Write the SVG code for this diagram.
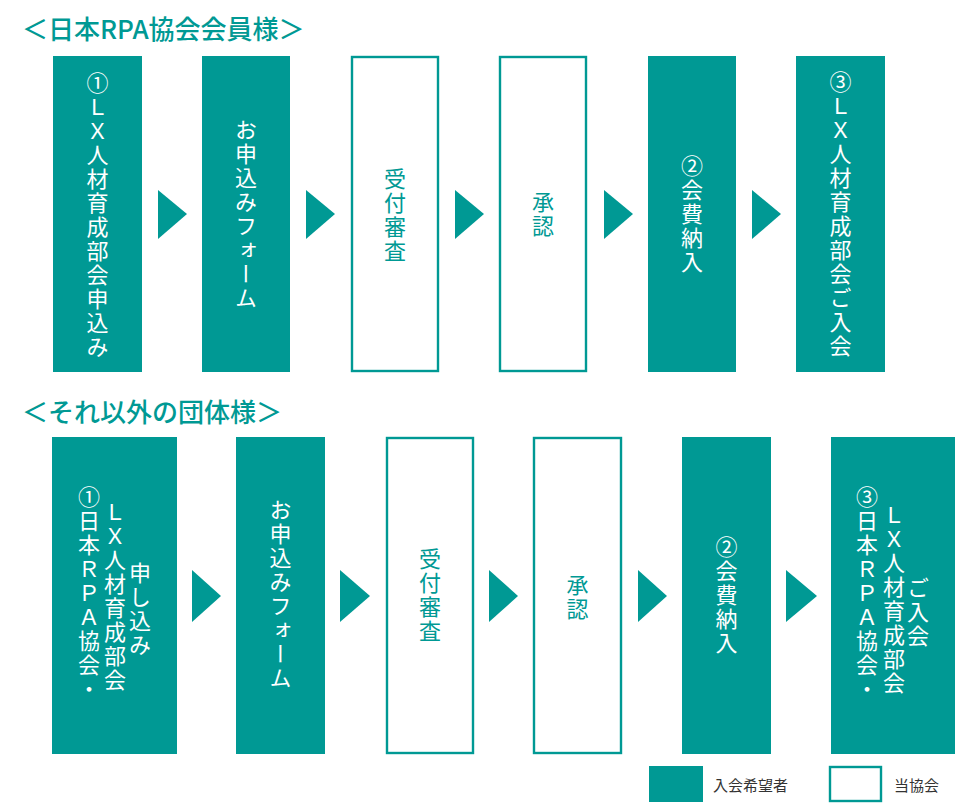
<svg xmlns="http://www.w3.org/2000/svg" width="955" height="803" viewBox="0 0 955 803">
<style>
.f{fill:#009994}
.o{fill:#ffffff;stroke:#009994;stroke-width:2.4}
.t{font-family:"Noto Sans CJK JP","Noto Sans",sans-serif;font-size:22px;letter-spacing:2px;writing-mode:vertical-rl;text-anchor:middle}
.w{fill:#ffffff}
.g{fill:#009994}
.h{font-family:"Noto Sans CJK JP","Noto Sans",sans-serif;font-size:26px;font-weight:500;fill:#009994}
.l{font-family:"Noto Sans CJK JP","Noto Sans",sans-serif;font-size:15px;fill:#333333}
.a{fill:#009994}
</style>
<rect width="955" height="803" fill="#ffffff"/>
<text class="h" x="22" y="39">＜日本RPA協会会員様＞</text>
<text class="h" x="22" y="422">＜それ以外の団体様＞</text>

<g id="connectors">
<polygon class="a" points="158,190 187,214 158,239"/>
<polygon class="a" points="306,190 335,214 306,239"/>
<polygon class="a" points="455,190 484,214 455,239"/>
<polygon class="a" points="604,190 633,214 604,239"/>
<polygon class="a" points="752,190 781,214 752,239"/>
<polygon class="a" points="192,570 221,596 192,622"/>
<polygon class="a" points="340,570 370,596 340,622"/>
<polygon class="a" points="489,570 518,596 489,622"/>
<polygon class="a" points="638,570 667,596 638,622"/>
<polygon class="a" points="786,570 817,596 786,622"/>
</g>

<g id="r1n1"><rect class="f" x="53" y="56" width="89" height="316"/><text class="t w" x="97.5" y="216">①ＬＸ人材育成部会申込み</text></g>
<g id="r1n2"><rect class="f" x="202" y="56" width="88" height="316"/><text class="t w" x="246" y="215">お申込みフォーム</text></g>
<g id="r1n3"><rect class="o" x="352" y="57" width="86" height="314"/><text class="t g" x="395" y="216">受付審査</text></g>
<g id="r1n4"><rect class="o" x="500" y="57" width="86" height="314"/><text class="t g" x="543" y="215">承認</text></g>
<g id="r1n5"><rect class="f" x="648" y="56" width="88" height="316"/><text class="t w" x="692" y="215">②会費納入</text></g>
<g id="r1n6"><rect class="f" x="796" y="56" width="89" height="316"/><text class="t w" x="840.5" y="215">③ＬＸ人材育成部会ご入会</text></g>

<g id="r2n1"><rect class="f" x="52" y="437" width="125" height="317"/>
<text class="t w" x="89" y="594">①日本ＲＰＡ協会・</text>
<text class="t w" x="115" y="597">ＬＸ人材育成部会</text>
<text class="t w" x="140" y="610">申し込み</text></g>
<g id="r2n2"><rect class="f" x="236" y="437" width="89" height="317"/><text class="t w" x="280.5" y="595">お申込みフォーム</text></g>
<g id="r2n3"><rect class="o" x="387" y="438" width="86" height="315"/><text class="t g" x="430" y="596">受付審査</text></g>
<g id="r2n4"><rect class="o" x="534" y="438" width="87" height="315"/><text class="t g" x="577.5" y="598">承認</text></g>
<g id="r2n5"><rect class="f" x="682" y="437" width="89" height="317"/><text class="t w" x="726.5" y="596">②会費納入</text></g>
<g id="r2n6"><rect class="f" x="831" y="437" width="124" height="317"/>
<text class="t w" x="867" y="594">③日本ＲＰＡ協会・</text>
<text class="t w" x="894" y="600">ＬＸ人材育成部会</text>
<text class="t w" x="918" y="613">ご入会</text></g>

<g id="legend1"><rect class="f" x="649" y="766" width="54" height="36"/><text class="l" x="713" y="791">入会希望者</text></g>
<g id="legend2"><rect class="o" x="830" y="767" width="51" height="34"/><text class="l" x="894" y="791">当協会</text></g>
</svg>
